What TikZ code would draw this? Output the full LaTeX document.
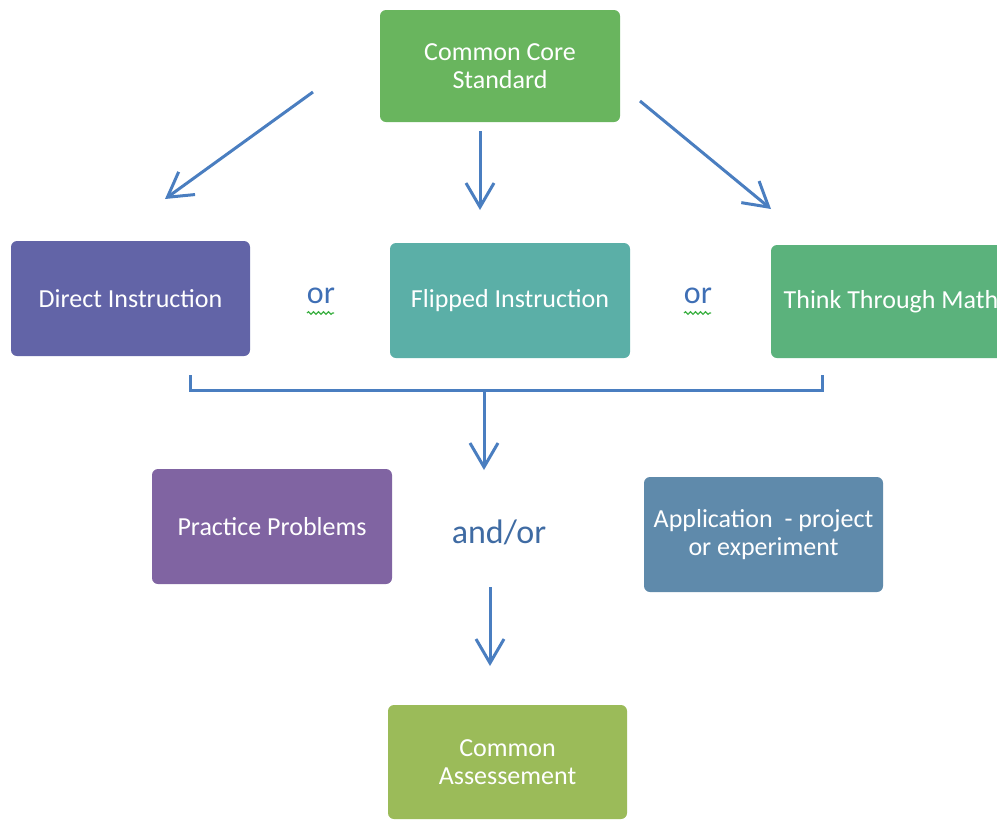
\documentclass[tikz,border=0pt]{standalone}
\usepackage{fontspec}
\setmainfont{Carlito}
\usetikzlibrary{arrows.meta,decorations.pathmorphing}
\definecolor{ccsgreen}{HTML}{69B55E}
\definecolor{dipurple}{HTML}{6264A7}
\definecolor{fiteal}{HTML}{5BAFA7}
\definecolor{ttmgreen}{HTML}{5BB27C}
\definecolor{pppurple}{HTML}{8064A2}
\definecolor{appblue}{HTML}{5F8AAB}
\definecolor{caolive}{HTML}{9BBB59}
\definecolor{arrowblue}{HTML}{4A7EC0}
\definecolor{ortext}{HTML}{3F6FB5}
\definecolor{squig}{HTML}{3CB043}
\tikzset{
  box/.style={rounded corners=6pt, minimum width=240pt, minimum height=114pt,
    text=white, align=center, font=\fontsize{26}{27.5}\selectfont, inner sep=0pt},
  conn/.style={draw=arrowblue, line width=3pt},
  arr/.style={conn, -{Straight Barb[length=24pt,width=28pt,line width=3pt]}},
  ortxt/.style={text=ortext, font=\fontsize{32}{34}\selectfont},
  wavy/.style={draw=squig, line width=1.2pt, decorate,
    decoration={snake, amplitude=1.3pt, segment length=5pt}}
}
\begin{document}
\begin{tikzpicture}[x=1pt,y=-1pt]
\useasboundingbox (0,0) rectangle (997,820);
\node[box, fill=ccsgreen, minimum height=112pt] (ccs) at (500,66) {Common Core\\Standard};
\node[box, fill=dipurple, minimum width=239pt, minimum height=115pt] (di) at (130.5,298.5) {Direct Instruction};
\node[box, fill=fiteal, minimum height=115pt] (fi) at (510,300.5) {Flipped Instruction};
\node[box, fill=ttmgreen, minimum height=113pt] (ttm) at (891,301.5) {Think Through Math};
\node[box, fill=pppurple, minimum height=115pt] (pp) at (272,526.5) {Practice Problems};
\node[box, fill=appblue, minimum width=239pt, minimum height=115pt] (app) at (763.5,534.5) {Application~~- project\\or experiment};
\node[box, fill=caolive, minimum width=239pt, minimum height=114pt] (ca) at (507.5,762) {Common\\Assessement};

\node[ortxt] (or1) at (321,296) {or};
\node[ortxt] (or2) at (698,296) {or};
\node[ortxt, text=arrowblue!85!black, font=\fontsize{34}{36}\selectfont] (andor) at (499,532) {and/or};
\draw[wavy] (307,313) -- (334,313);
\draw[wavy] (684,313) -- (711,313);

% top arrows
\coordinate (a1s) at (313,92);  \coordinate (a1e) at (165,199);
\coordinate (a2s) at (480,131); \coordinate (a2e) at (480,210);
\coordinate (a3s) at (640,101); \coordinate (a3e) at (771,209);
\draw[arr] (a1s) -- (a1e);
\draw[arr] (a2s) -- (a2e);
\draw[arr] (a3s) -- (a3e);

% bracket
\coordinate (bl) at (190,375);
\coordinate (br) at (822,375);
\coordinate (bm) at (484,390);
\coordinate (bme) at (484,470);
\draw[conn] (bl) |- (bm) -| (br);
\draw[arr] (bm) -- (bme);

% lower arrow
\coordinate (ls) at (490,587);
\coordinate (le) at (490,666);
\draw[arr] (ls) -- (le);
\end{tikzpicture}
\end{document}
